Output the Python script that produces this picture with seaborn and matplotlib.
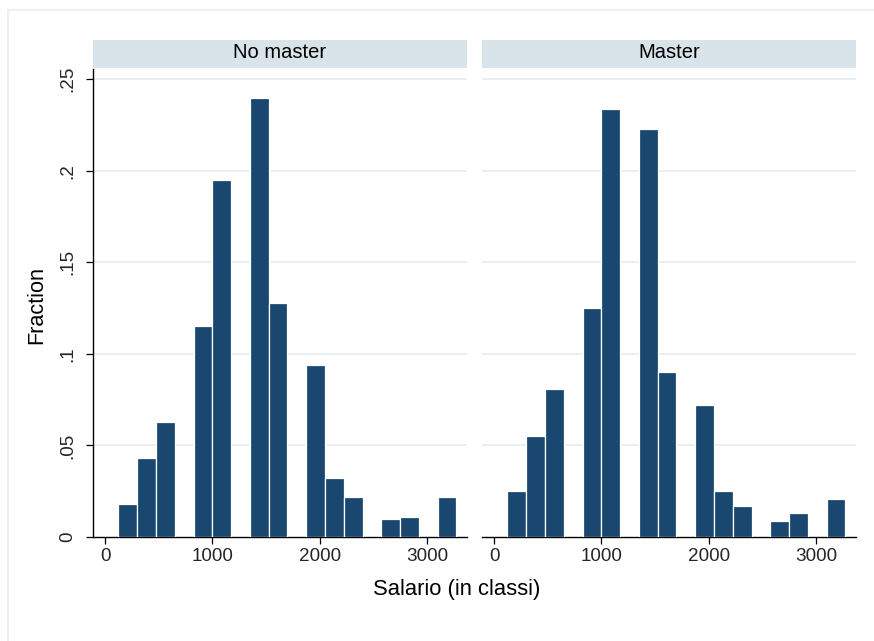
import numpy as np
import pandas as pd
import matplotlib
matplotlib.use("Agg")
import matplotlib.pyplot as plt
from matplotlib.patches import Rectangle
from matplotlib.lines import Line2D
import seaborn as sns

# ---- data ----
bin_centers = [212.5, 387.5, 562.5, 912.5, 1087.5, 1437.5, 1612.5,
               1962.5, 2137.5, 2312.5, 2662.5, 2837.5, 3187.5]
frac_no_master = [0.018, 0.043, 0.063, 0.115, 0.195, 0.240, 0.128,
                  0.094, 0.032, 0.022, 0.010, 0.011, 0.022]
frac_master = [0.025, 0.055, 0.081, 0.125, 0.234, 0.223, 0.090,
               0.072, 0.025, 0.017, 0.009, 0.013, 0.021]
panel_titles = ["No master", "Master"]
x_ticks = [0, 1000, 2000, 3000]
y_ticks = [0, 0.05, 0.10, 0.15, 0.20, 0.25]
y_tick_labels = ["0", ".05", ".1", ".15", ".2", ".25"]
bin_start, bin_width, n_bins = 125, 175, 18

df = pd.DataFrame({
    "salario": bin_centers * 2,
    "fraction": frac_no_master + frac_master,
    "group": [panel_titles[0]] * len(bin_centers) + [panel_titles[1]] * len(bin_centers),
})

sns.set_theme(style="white")
plt.rcParams['font.family'] = ['Liberation Sans', 'DejaVu Sans']

W, H = 874, 641
fig = plt.figure(figsize=(W / 100, H / 100), dpi=100)
fig.patch.set_facecolor("white")

bar_color = "#1a476f"
grid_color = "#e8eff1"
strip_color = "#d9e4ea"
edges = [bin_start + i * bin_width for i in range(n_bins + 1)]

def fx(px):
    return px / W

def fy(py):
    return 1 - py / H

ax_top, ax_bot = 69, 537
panels = [(93, 467), (482, 856)]

for i, (title, (x0, x1)) in enumerate(zip(panel_titles, panels)):
    ax = fig.add_axes([fx(x0), fy(ax_bot), fx(x1 - x0), (ax_bot - ax_top) / H])
    sub = df[df["group"] == title]
    sns.histplot(data=sub, x="salario", weights="fraction", bins=edges,
                 stat="count", ax=ax, color=bar_color, alpha=1,
                 edgecolor="white", linewidth=0.9, zorder=3)
    ax.set_xlim(-112, 3374)
    ax.set_ylim(0, 0.2556)
    for yt in y_ticks[1:]:
        ax.axhline(yt, color=grid_color, lw=1.3, zorder=1)
    ax.set_xticks(x_ticks)
    ax.set_xticklabels([str(t) for t in x_ticks], fontsize=13.6)
    ax.tick_params(axis="x", direction="out", length=5, width=0.9,
                   color="black", pad=3, bottom=True)
    ax.set_xlabel("")
    ax.set_ylabel("")
    for s in ["top", "right"]:
        ax.spines[s].set_visible(False)
    ax.spines["bottom"].set_color("black")
    ax.spines["bottom"].set_linewidth(1.0)
    if i == 0:
        ax.spines["left"].set_color("black")
        ax.spines["left"].set_linewidth(1.0)
        ax.set_yticks(y_ticks)
        ax.set_yticklabels(y_tick_labels, fontsize=13.6, rotation=90, va="center")
        ax.tick_params(axis="y", direction="out", length=5, width=0.9,
                       color="black", pad=7, left=True)
    else:
        ax.spines["left"].set_visible(False)
        ax.set_yticks([])
    ax.set_facecolor("white")
    # strip
    fig.add_artist(Rectangle((fx(x0), fy(68)), fx(x1 - x0), 28 / H,
                             transform=fig.transFigure, facecolor=strip_color,
                             edgecolor="none"))
    fig.text(fx((x0 + x1) / 2), fy(52), title, ha="center", va="center",
             fontsize=14.5, color="black")

fig.text(fx(37), fy(305), "Fraction", rotation=90, ha="center", va="center",
         fontsize=15.6, color="black")
fig.text(fx(457), fy(589), "Salario (in classi)", ha="center", va="center",
         fontsize=15.8, color="black")

# outer light frame
fig.add_artist(Line2D([fx(8), fx(8)], [fy(10), 0], transform=fig.transFigure,
                      color=grid_color, lw=1.2))
fig.add_artist(Line2D([fx(8), 1], [fy(10), fy(10)], transform=fig.transFigure,
                      color=grid_color, lw=1.2))

fig.savefig("out.png", dpi=100)
